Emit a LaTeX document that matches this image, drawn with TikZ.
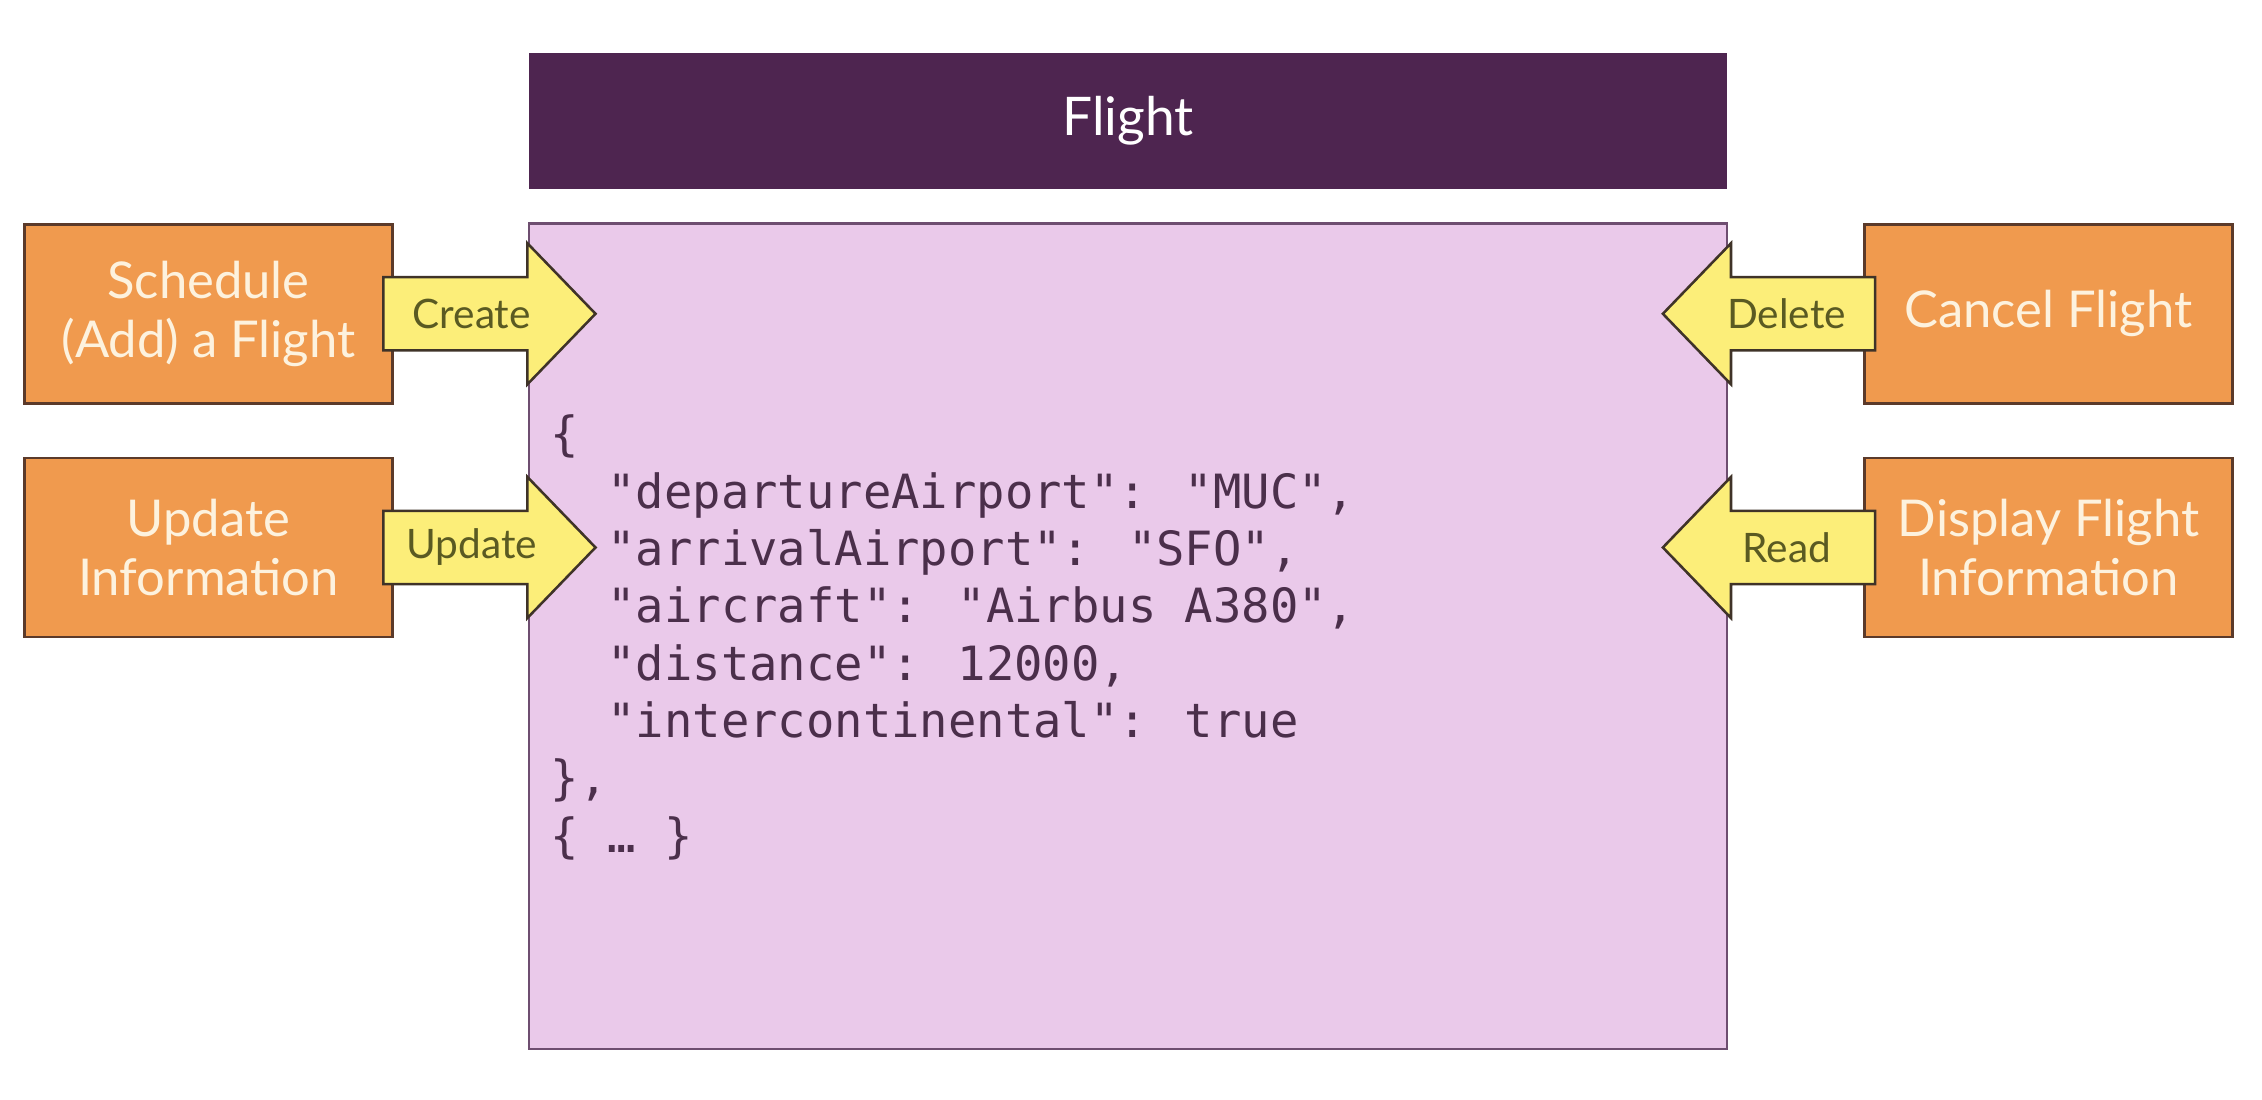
\documentclass[tikz,border=0pt]{standalone}
\usepackage{fontspec}
\setsansfont{Lato}
\newfontfamily\jsonfont{DejaVu Sans Mono}
\usetikzlibrary{shapes.arrows}

\definecolor{flightpurple}{HTML}{4E2550}
\definecolor{lilac}{HTML}{EAC9EA}
\definecolor{lilacline}{HTML}{6E4E70}
\definecolor{boxorange}{HTML}{F09A4E}
\definecolor{boxline}{HTML}{5B3A2A}
\definecolor{arrowyellow}{HTML}{FCEE79}
\definecolor{arrowline}{HTML}{3F3328}
\definecolor{cream}{HTML}{FDF2DE}
\definecolor{olive}{HTML}{5A5A22}
\definecolor{jsonink}{HTML}{4B2F4B}

\tikzset{
  action/.style={draw=boxline, line width=0.5pt, fill=boxorange, text=cream,
    font=\sffamily\fontsize{10}{11.7}\selectfont, align=center,
    minimum width=2.55cm, minimum height=1.24cm, inner sep=0},
  fatarrow/.style={single arrow, draw=arrowline, line width=0.5pt, fill=arrowyellow,
    inner xsep=0, inner ysep=0.245cm, single arrow head extend=0.235cm,
    single arrow tip angle=92, minimum height=1.47cm},
  arrlabel/.style={text=olive, font=\sffamily\fontsize{8}{9}\selectfont, inner sep=0},
  jsontext/.style={text=jsonink, font=\jsonfont\fontsize{9.3}{11.3}\selectfont,
    align=left, inner sep=0}
}

\begin{document}
\begin{tikzpicture}[x=0.01cm, y=-0.01cm]
    \useasboundingbox (0,0) rectangle (1568,762.5);
    % entity and its store
    \node[fill=flightpurple, text=white, font=\sffamily\fontsize{10.5}{12}\selectfont,
      minimum width=8.30cm, minimum height=0.94cm, inner sep=0] (flight) at (782,84) {Flight};
    \node[draw=lilacline, line width=0.5pt, fill=lilac,
      minimum width=8.30cm, minimum height=5.72cm, inner sep=0] (store) at (782,441) {};
    \node[jsontext, anchor=north west] (json) at (381,287) {\{\\
\hphantom{xx}"departureAirport": "MUC",\\
\hphantom{xx}"arrivalAirport": "SFO",\\
\hphantom{xx}"aircraft": "Airbus A380",\\
\hphantom{xx}"distance": 12000,\\
\hphantom{xx}"intercontinental": true\\
\},\\
\{ … \}};

    % actions
    \node[action] (schedule) at (144.5,217.5) {Schedule\\(Add) a Flight};
    \node[action] (update) at (144.5,379.5) {Update\\Information};
    \node[action] (cancel) at (1420,217.5) {Cancel Flight};
    \node[action] (display) at (1420,379.5) {Display Flight\\Information};

    % operations
    \node[fatarrow] (create) at (327,217.5) {};
    \node[fatarrow] (modify) at (327,379.5) {};
    \node[fatarrow, shape border rotate=180] (delete) at (1238.5,217.5) {};
    \node[fatarrow, shape border rotate=180] (read) at (1238.5,379.5) {};
    \node[arrlabel] (createlbl) at (create) {Create};
    \node[arrlabel] (modifylbl) at (modify) {Update};
    \node[arrlabel] (deletelbl) at (delete) {Delete};
    \node[arrlabel] (readlbl) at (read) {Read};
\end{tikzpicture}
\end{document}
